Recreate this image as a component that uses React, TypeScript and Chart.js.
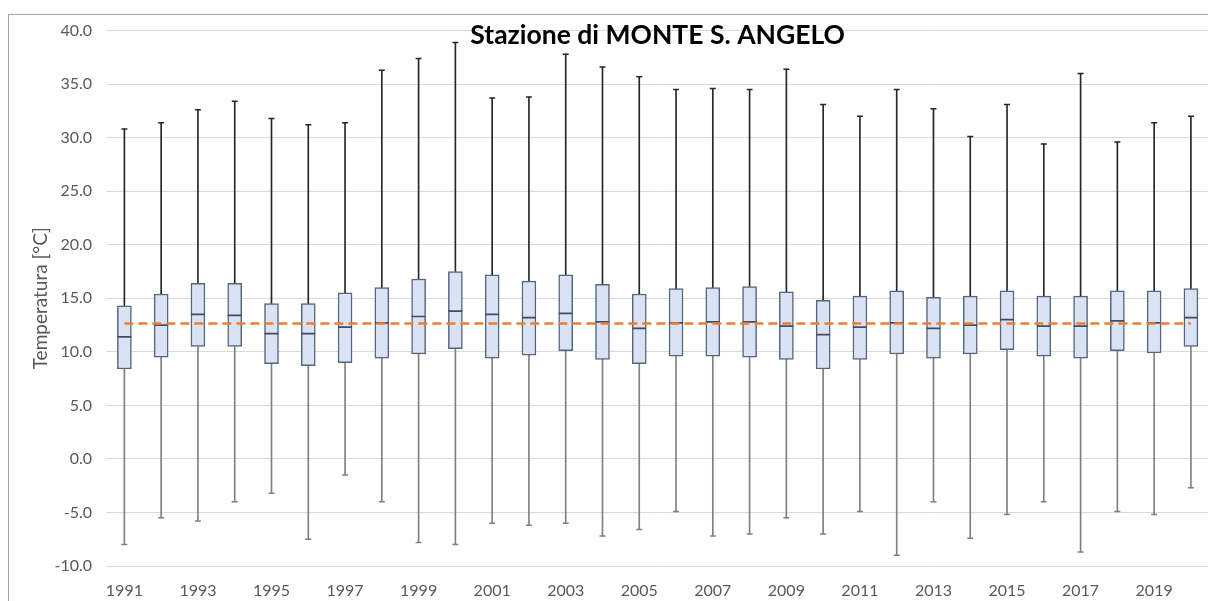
import React, { useEffect, useRef } from "react";
import { Chart, registerables } from "chart.js";

Chart.register(...registerables);

const years = [
  "1991", "1992", "1993", "1994", "1995", "1996", "1997", "1998", "1999", "2000",
  "2001", "2002", "2003", "2004", "2005", "2006", "2007", "2008", "2009", "2010",
  "2011", "2012", "2013", "2014", "2015", "2016", "2017", "2018", "2019", "2020",
];
const maxVals = [
  30.8, 31.4, 32.6, 33.4, 31.8, 31.2, 31.4, 36.3, 37.4, 38.9,
  33.7, 33.8, 37.8, 36.6, 35.7, 34.5, 34.6, 34.5, 36.4, 33.1,
  32.0, 34.5, 32.7, 30.1, 33.1, 29.4, 36.0, 29.6, 31.4, 32.0,
];
const q3Vals = [
  14.3, 15.4, 16.4, 16.4, 14.5, 14.5, 15.5, 16.0, 16.8, 17.5,
  17.2, 16.6, 17.2, 16.3, 15.4, 15.9, 16.0, 16.1, 15.6, 14.8,
  15.2, 15.7, 15.1, 15.2, 15.7, 15.2, 15.2, 15.7, 15.7, 15.9,
];
const medVals = [
  11.4, 12.5, 13.5, 13.4, 11.7, 11.7, 12.3, 12.7, 13.3, 13.8,
  13.5, 13.2, 13.6, 12.8, 12.2, 12.7, 12.8, 12.8, 12.4, 11.6,
  12.3, 12.7, 12.2, 12.5, 13.0, 12.4, 12.4, 12.9, 12.7, 13.2,
];
const q1Vals = [
  8.4, 9.5, 10.5, 10.5, 8.9, 8.7, 9.0, 9.4, 9.8, 10.3,
  9.4, 9.7, 10.1, 9.3, 8.9, 9.6, 9.6, 9.5, 9.3, 8.4,
  9.3, 9.8, 9.4, 9.8, 10.2, 9.6, 9.4, 10.1, 9.9, 10.5,
];
const minVals = [
  -8.0, -5.5, -5.8, -4.0, -3.2, -7.5, -1.5, -4.0, -7.8, -8.0,
  -6.0, -6.2, -6.0, -7.2, -6.6, -4.9, -7.2, -7.0, -5.5, -7.0,
  -4.9, -9.0, -4.0, -7.4, -5.2, -4.0, -8.7, -4.9, -5.2, -2.7,
];
const AVG_TEMP = 12.64;

const TITLE = "Stazione di MONTE S. ANGELO";
const Y_TITLE = "Temperatura [°C]";
const Y_MIN = -10;
const Y_MAX = 40;
const Y_STEP = 5;

const FONT = "Lato, 'Noto Sans', sans-serif";

export default function App() {
  const canvasRef = useRef<HTMLCanvasElement | null>(null);

  useEffect(() => {
    const canvas = canvasRef.current;
    if (!canvas) return;
    const chart = new Chart(canvas, {
      type: "bar",
      data: {
        labels: years,
        datasets: [
          {
            type: "line",
            label: "media",
            data: years.map(() => AVG_TEMP),
            borderColor: "#ed7d31",
            borderWidth: 2.5,
            borderDash: [9, 5],
            pointRadius: 0,
            fill: false,
            order: 0,
          } as any,
          {
            type: "line",
            label: "mediana",
            data: medVals,
            showLine: false,
            pointStyle: "line",
            pointRadius: 7,
            pointBorderColor: "#3f4d63",
            pointBorderWidth: 1.7,
            order: 1,
          } as any,
          {
            type: "line",
            label: "max",
            data: maxVals,
            showLine: false,
            pointStyle: "line",
            pointRadius: 3,
            pointBorderColor: "#262626",
            pointBorderWidth: 1.5,
            order: 1,
          } as any,
          {
            type: "line",
            label: "min",
            data: minVals,
            showLine: false,
            pointStyle: "line",
            pointRadius: 3,
            pointBorderColor: "#808080",
            pointBorderWidth: 1.5,
            order: 1,
          } as any,
          {
            type: "bar",
            label: "box",
            data: years.map((_, i) => [q1Vals[i], q3Vals[i]]),
            backgroundColor: "#dae3f3",
            borderColor: "#56657d",
            borderWidth: 1.5,
            borderSkipped: false,
            barThickness: 14,
            grouped: false,
            order: 2,
          } as any,
          {
            type: "bar",
            label: "upper",
            data: years.map((_, i) => [q3Vals[i], maxVals[i]]),
            backgroundColor: "#262626",
            borderWidth: 0,
            barThickness: 1,
            grouped: false,
            order: 3,
          } as any,
          {
            type: "bar",
            label: "lower",
            data: years.map((_, i) => [minVals[i], q1Vals[i]]),
            backgroundColor: "#808080",
            borderWidth: 0,
            barThickness: 1,
            grouped: false,
            order: 3,
          } as any,
        ],
      },
      options: {
        responsive: false,
        animation: false,
        devicePixelRatio: 1,
        layout: { padding: { left: 0, right: 3, top: 0, bottom: 0 } },
        plugins: {
          legend: { display: false },
          tooltip: { enabled: false },
          title: {
            display: true,
            fullSize: false,
            text: TITLE,
            color: "#000000",
            font: { family: FONT, size: 26.5, weight: "bold" },
            padding: { top: -2, bottom: -21 },
          },
        },
        scales: {
          x: {
            type: "category",
            offset: true,
            grid: { display: false, drawTicks: false },
            border: { display: false },
            ticks: {
              autoSkip: false,
              maxRotation: 0,
              minRotation: 0,
              padding: 15,
              color: "#595959",
              font: { family: FONT, size: 16 },
              callback: (_v: any, i: number) => (i % 2 === 0 ? years[i] : ""),
            },
            afterFit: (s: any) => {
              s.height = 41;
            },
          },
          y: {
            min: Y_MIN,
            max: Y_MAX,
            grid: { color: "#d9d9d9", drawTicks: false },
            border: { display: false },
            ticks: {
              stepSize: Y_STEP,
              padding: 14,
              color: "#595959",
              font: { family: FONT, size: 16 },
              callback: (v: any) => Number(v).toFixed(1),
            },
            title: {
              display: true,
              text: Y_TITLE,
              color: "#595959",
              font: { family: FONT, size: 19 },
              padding: { top: 20, bottom: 0 },
            },
            afterFit: (s: any) => {
              s.width = 97;
            },
          },
        },
      } as any,
    });
    return () => chart.destroy();
  }, []);

  return (
    <div
      style={{
        position: "fixed",
        left: 0,
        top: 0,
        width: 1208,
        height: 601,
        overflow: "hidden",
        background: "#ffffff",
      }}
    >
      <div
        style={{
          position: "absolute",
          left: 8,
          top: 14,
          width: 1220,
          height: 620,
          borderLeft: "1px solid #a6a6a6",
          borderTop: "1px solid #a6a6a6",
        }}
      >
        <canvas
          ref={canvasRef}
          width={1209}
          height={600}
          style={{ position: "absolute", left: 0, top: -8, width: 1209, height: 600 }}
        />
      </div>
    </div>
  );
}
